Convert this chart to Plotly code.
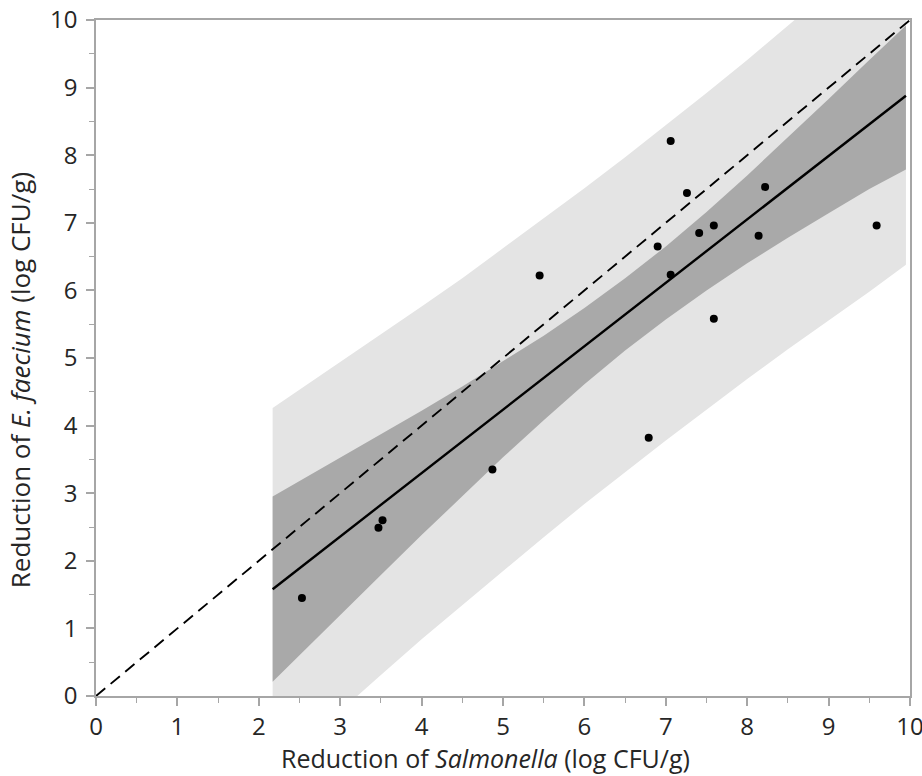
import plotly.graph_objects as go

# Observed log reductions for each sample
salmonella = [2.53, 3.52, 3.47, 4.87, 5.45, 6.79, 6.90, 7.06, 7.06, 7.26,
              7.41, 7.59, 7.59, 8.14, 8.22, 9.59]
faecium = [1.45, 2.60, 2.49, 3.35, 6.22, 3.82, 6.65, 8.21, 6.23, 7.44,
           6.85, 6.96, 5.58, 6.81, 7.53, 6.96]

# Fitted regression line with its confidence and prediction bands
band_x = [2.17, 2.5, 3.0, 3.5, 4.0, 4.5, 5.0, 5.5, 6.0, 6.5, 7.0, 7.5,
          8.0, 8.5, 9.0, 9.5, 9.95]
fit_y = [1.58, 1.89, 2.36, 2.83, 3.30, 3.77, 4.24, 4.70, 5.17, 5.64, 6.11,
         6.58, 7.05, 7.52, 7.99, 8.46, 8.88]
ci_upper = [2.95, 3.18, 3.52, 3.87, 4.22, 4.58, 4.95, 5.33, 5.74, 6.18,
            6.65, 7.16, 7.70, 8.26, 8.83, 9.41, 9.92]
ci_lower = [0.21, 0.60, 1.20, 1.79, 2.38, 2.96, 3.53, 4.08, 4.61, 5.11,
            5.57, 6.00, 6.40, 6.78, 7.14, 7.50, 7.79]
pi_upper = [4.26, 4.53, 4.93, 5.34, 5.76, 6.18, 6.62, 7.06, 7.51, 7.97,
            8.44, 8.92, 9.41, 9.91, 10.42, 10.93, 11.41]
pi_lower = [-1.11, -0.75, -0.22, 0.31, 0.84, 1.35, 1.85, 2.35, 2.84, 3.31,
            3.78, 4.24, 4.69, 5.13, 5.56, 5.98, 6.38]

# 1:1 reference line
identity_x = [0, 10]
identity_y = [0, 10]

tick_vals = list(range(0, 11))

FONT = "Open Sans"
AXIS_GREY = "#a6a6a6"
TEXT = "#262626"

fig = go.Figure()

fig.add_trace(go.Scatter(
    x=band_x + band_x[::-1], y=pi_upper + pi_lower[::-1],
    fill="toself", fillcolor="#e4e4e4", mode="lines",
    line=dict(width=0), hoverinfo="skip", showlegend=False))

fig.add_trace(go.Scatter(
    x=band_x + band_x[::-1], y=ci_upper + ci_lower[::-1],
    fill="toself", fillcolor="#a9a9a9", mode="lines",
    line=dict(width=0), hoverinfo="skip", showlegend=False))

fig.add_trace(go.Scatter(
    x=identity_x, y=identity_y, mode="lines",
    line=dict(color="black", width=1.9, dash="12px,7px"),
    showlegend=False))

fig.add_trace(go.Scatter(
    x=band_x, y=fit_y, mode="lines",
    line=dict(color="black", width=2.4), showlegend=False))

fig.add_trace(go.Scatter(
    x=salmonella, y=faecium, mode="markers",
    marker=dict(color="black", size=8, line=dict(width=0)),
    showlegend=False))

axis_common = dict(
    range=[0, 10], tickvals=tick_vals, ticktext=[str(v) for v in tick_vals],
    showgrid=False, zeroline=False, automargin=False,
    ticklabeloverflow="allow",
    showline=True, linecolor=AXIS_GREY, linewidth=1.5, mirror=True,
    ticks="outside", ticklen=8, tickwidth=1.5, tickcolor=AXIS_GREY,
    minor=dict(dtick=0.5, ticks="outside", ticklen=5, tickwidth=1.2,
               tickcolor=AXIS_GREY),
    tickfont=dict(family=FONT, size=24, color=TEXT),
)

fig.update_xaxes(**axis_common, ticklabelstandoff=0)
fig.update_yaxes(**axis_common, ticklabelstandoff=4)

fig.add_annotation(
    text="Reduction of <i>Salmonella</i> (log CFU/g)",
    xref="paper", yref="paper", x=0.478, y=-0.092, yanchor="middle",
    xanchor="center", showarrow=False,
    font=dict(family=FONT, size=25, color=TEXT))

fig.add_annotation(
    text="Reduction of <i>E. faecium</i> (log CFU/g)",
    xref="paper", yref="paper", x=-0.118, y=0.467, textangle=-90,
    xanchor="left", yanchor="middle", showarrow=False,
    font=dict(family=FONT, size=26, color=TEXT))

fig.update_layout(
    width=922, height=776,
    margin=dict(l=96, r=12, t=20, b=80),
    plot_bgcolor="white", paper_bgcolor="white",
)

fig.write_html("out.html")
